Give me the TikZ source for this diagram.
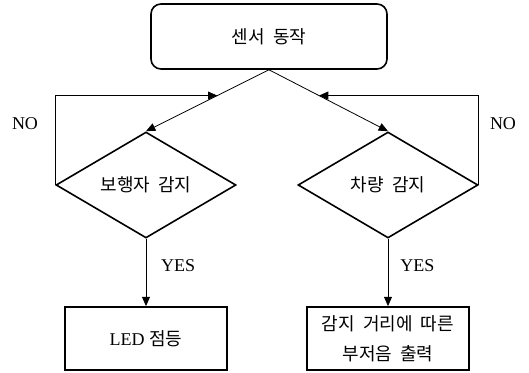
\documentclass[tikz,border=0pt]{standalone}
\usepackage{fontspec}
\setmainfont{Liberation Serif}
\newfontfamily\kr[WordSpace=2]{Noto Sans CJK KR}
\usetikzlibrary{arrows.meta,positioning,calc,shapes.geometric}

\begin{document}
\begin{tikzpicture}[
  x=0.75pt, y=0.75pt,
  font=\fontsize{13.5}{22}\selectfont,
  >={Triangle[length=7pt,width=6pt]},
  start/.style={
    draw,
    line width=1.2pt,
    rounded corners=7.5pt,
    align=center,
    minimum width=177pt,
    minimum height=48.75pt
  },
  decision/.style={
    draw,
    diamond,
    line width=1.2pt,
    aspect=1.7,
    inner sep=0pt,
    minimum width=135pt,
    minimum height=79.5pt
  },
  action/.style={
    draw,
    line width=1.2pt,
    align=center,
    minimum width=121.5pt,
    minimum height=47.5pt
  },
  arr/.style={->, line width=0.6pt},
  lbl/.style={inner sep=0pt}
]
  \useasboundingbox (0,0) rectangle (529,-373);

  % Start
  \node[start] (sense) at (269,-36.5) {\kr 센서 동작};

  % Decisions
  \node[decision] (ped) at (146,-185) {\kr 보행자 감지};
  \node[decision] (car) at (388,-185) {\kr 차량 감지};

  \draw[arr] (sense.south) -- (ped.north);
  \draw[arr] (sense.south) -- (car.north);

  % NO loops back
  \coordinate (pedjoin) at ($(sense.south)!0.42!(ped.north)$);
  \coordinate (carjoin) at ($(sense.south)!0.42!(car.north)$);
  \draw[arr] (ped.west) |- (pedjoin);
  \draw[arr] (car.east) |- (carjoin);
  \node[lbl] (pedno) at (25,-124) {NO};
  \node[lbl] (carno) at (503,-124) {NO};

  % Actions
  \node[action, below=50.5pt of ped] (led) {LED {\kr 점등}};
  \node[action, below=50.5pt of car] (buzz) {{\kr 감지 거리에 따른}\\{\kr 부저음 출력}};

  \draw[arr] (ped.south) -- node[lbl, pos=0.4, right=11pt] (pedyes) {YES} (led.north);
  \draw[arr] (car.south) -- node[lbl, pos=0.4, right=9pt] (caryes) {YES} (buzz.north);
\end{tikzpicture}
\end{document}
